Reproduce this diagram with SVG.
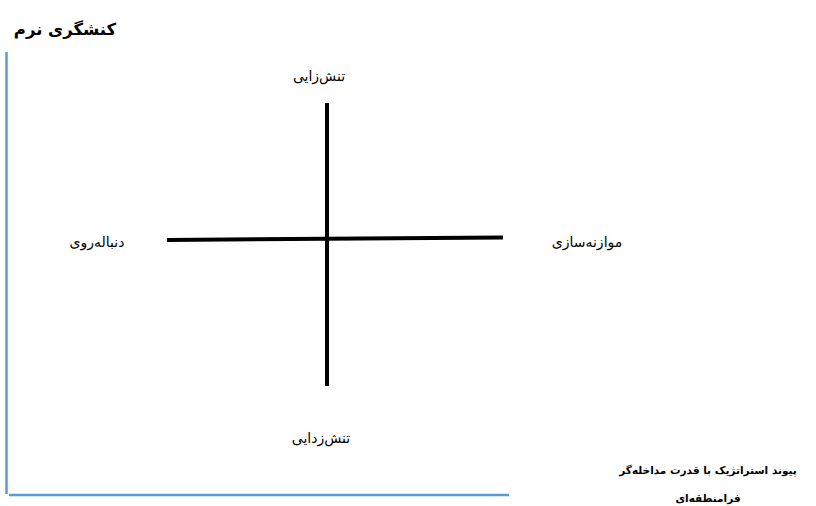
<svg xmlns="http://www.w3.org/2000/svg" width="816" height="506" viewBox="0 0 816 506">
<style>
.lbl{font-family:"DejaVu Sans","Noto Sans",sans-serif;font-size:14px;fill:#000;text-anchor:middle;direction:rtl}
.bold{font-weight:bold}
.axis{stroke:#5b9bd5;stroke-width:2.5;fill:none}
.bar{stroke:#000;stroke-width:4;fill:none}
</style>
<rect width="816" height="506" fill="#fff"/>
<g id="connectors">
<line class="axis" x1="6.5" y1="52" x2="6.5" y2="494"/>
<line class="axis" x1="9" y1="495" x2="509" y2="495"/>
<line class="bar" x1="327" y1="103" x2="327" y2="386"/>
<line class="bar" x1="167" y1="240" x2="503" y2="237.5"/>
</g>
<g id="title"><text class="lbl bold" x="65" y="35" style="font-size:16.5px">کنشگری نرم</text></g>
<g id="top"><text class="lbl" x="319" y="81">تنش‌زایی</text></g>
<g id="bottom"><text class="lbl" x="321" y="443">تنش‌زدایی</text></g>
<g id="left"><text class="lbl" x="97" y="247">دنباله‌روی</text></g>
<g id="right"><text class="lbl" x="587" y="247">موازنه‌سازی</text></g>
<g id="xlabel">
<text class="lbl bold" x="708" y="474" style="font-size:10.5px">پیوند استراتژیک با قدرت مداخله‌گر</text>
<text class="lbl bold" x="708" y="502" style="font-size:10.5px">فرامنطقه‌ای</text>
</g>
</svg>
